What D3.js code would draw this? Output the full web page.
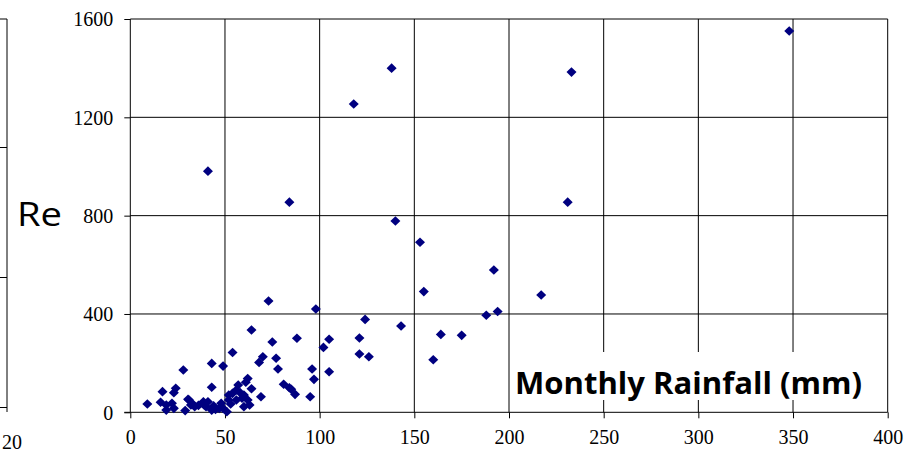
<!DOCTYPE html>
<html><head><meta charset="utf-8">
<script src="https://cdn.jsdelivr.net/npm/d3@7"></script>
<style>html,body{margin:0;padding:0;background:#fff;overflow:hidden}svg{display:block}</style>
</head><body>
<svg id="c" width="923" height="455"></svg>
<script>
// Monthly rainfall (mm)
const rainfall = [348,233,138,118,41,84,231,140,153,155,192,217,194,188,175,164,160,143,124,105,102,121,121,126,105,98,73,64,75,88,54,70,68,77,78,96,97,43,49,28,62,61,64,43,24,23,81,84,85,87,95,69,
9,16,19,19,22,23,30.5,32,29,33,38.6,40,43,45,48,49,52,52,54,56,58,60,56,53,60,62,63,44,51,59,57,17,31,34,39,41,47,36];
// Recharge / response values
const values = [1551,1384,1400,1254,981,855,855,778,692,491,579,477,410,395,313,317,214,351,378,297,264,302,237,226,165,420,453,335,286,301,243,226,203,220,176,176,134,199,188,172,137,122,96,102,98,80,114,100,94,73,63,63,
34,41,30,9,37,16,53,30,7,34,43,23,9,12,37,16,50,70,77,50,80,70,91,34,23,50,30,26,2,57,111,84,50,23,30,43,16,28];
const xTicks = [0,50,100,150,200,250,300,350,400];
const yTicks = [0,400,800,1200,1600];
const xTitle = "Monthly Rainfall (mm)";
const leftText = "Re";
const leftTickLabel = "20";

const svg = d3.select("#c");
const x = d3.scaleLinear().domain([0,400]).range([130.3,887.7]);
const y = d3.scaleLinear().domain([0,1600]).range([412.3,19]);
const serif = "'Liberation Serif','DejaVu Serif',serif";

// left partial chart
const lp = svg.append("g");
lp.append("line").attr("x1",7).attr("x2",7).attr("y1",19).attr("y2",412).attr("stroke","#000");
[19,147.5,277.5,407.5].forEach(v=>lp.append("line").attr("x1",0).attr("x2",7).attr("y1",v).attr("y2",v).attr("stroke","#000"));
lp.append("text").attr("x",2).attr("y",449).attr("font-family",serif).attr("font-size",20).text(leftTickLabel);
lp.append("text").attr("x",17).attr("y",226).attr("font-family","'Open Sans',sans-serif").attr("font-size",32)
  .attr("textLength",45).attr("lengthAdjust","spacingAndGlyphs").text(leftText);

// grid
const g = svg.append("g");
g.selectAll(".vx").data(xTicks.filter(d=>d>0)).join("line")
  .attr("x1",d=>x(d)).attr("x2",d=>x(d)).attr("y1",y(1600)).attr("y2",y(0)).attr("stroke","#000").attr("stroke-width",1);
g.selectAll(".hy").data(yTicks.filter(d=>d>0)).join("line")
  .attr("x1",x(0)).attr("x2",x(400)).attr("y1",d=>y(d)).attr("y2",d=>y(d)).attr("stroke","#000").attr("stroke-width",1);

// axis title box
svg.append("rect").attr("x",511).attr("y",352).attr("width",358).attr("height",48).attr("fill","#fff");
svg.append("text").attr("x",515).attr("y",394).attr("font-family","'Open Sans',sans-serif").attr("font-weight","bold")
  .attr("font-size",31).attr("textLength",347).attr("lengthAdjust","spacingAndGlyphs").text(xTitle);

// axes
const yAxis = d3.axisLeft(y).tickValues(yTicks).tickSize(6).tickPadding(11).tickFormat(d3.format("d"));
const ya = svg.append("g").attr("transform",`translate(${x(0)},0)`).call(yAxis);
ya.select(".domain").attr("d",`M-0,${y(1600)}V${y(0)}`);
ya.selectAll("text").attr("font-family",serif).attr("font-size",20).attr("fill","#000").attr("dy","0.34em");

const xAxis = d3.axisBottom(x).tickValues(xTicks).tickSize(6).tickPadding(12).tickFormat(d3.format("d"));
const xa = svg.append("g").attr("transform",`translate(0,${y(0)})`).call(xAxis);
xa.select(".domain").attr("d",`M${x(0)-6},0H${x(400)}`);
xa.selectAll("text").attr("font-family",serif).attr("font-size",20).attr("fill","#000");

// points
const pts = rainfall.map((r,i)=>[r,values[i]]);
svg.append("g").selectAll("path").data(pts).join("path")
  .attr("transform",d=>`translate(${x(d[0])},${y(d[1])})`)
  .attr("d","M0,-4.8L5,0L0,4.8L-5,0Z").attr("fill","#000080");
</script>
</body></html>
